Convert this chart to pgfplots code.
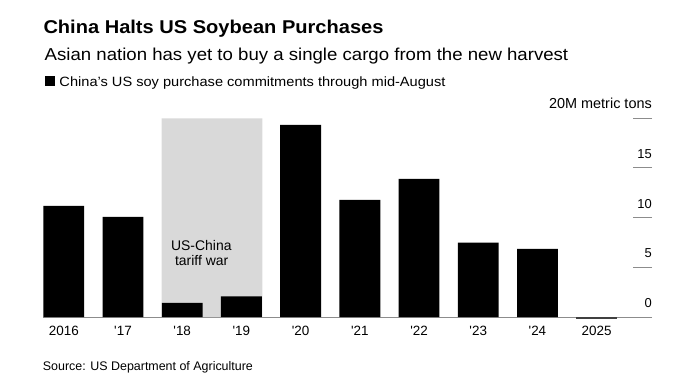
\documentclass[border=0pt]{standalone}
\usepackage{fontspec}
\setmainfont{Liberation Sans}
\usepackage{graphicx}
\usepackage{pgfplots}
\pgfplotsset{compat=1.18}
\definecolor{shade}{RGB}{217,217,217}
\definecolor{axgray}{RGB}{140,140,140}
\newcommand{\fitw}[2]{\resizebox{#1}{\height}{#2}}
\newcommand{\ap}{\textquotesingle}
\begin{document}
\begin{tikzpicture}[x=1bp,y=1bp]
\path[use as bounding box] (0,0) rectangle (697,382);
\begin{axis}[
 at={(43.3bp,65bp)}, anchor=south west,
 scale only axis, width=608.7bp, height=198.7bp,
 xmin=-0.346, xmax=9.935, ymin=0, ymax=20,
 /pgf/number format/assume math mode=true,
 axis x line*=bottom, axis y line*=right,
 x axis line style={draw=axgray,-, line width=0.8bp},
 y axis line style={draw=none},
 xtick={0,...,9},
 xticklabels={2016,\ap 17,\ap 18,\ap 19,\ap 20,\ap 21,\ap 22,\ap 23,\ap 24,2025},
 xtick style={draw=none},
 xticklabel style={anchor=base, yshift=-18.7bp, font=\fontsize{13.5}{15}\selectfont},
 ytick={0,5,10,15},
 yticklabels={0,5,10,15},
 extra y ticks={20}, extra y tick labels={\fontsize{14.5}{16}\selectfont 20M metric tons},
 extra y tick style={major tick style={draw=black}},
 tick align=inside, major tick length=19bp,
 ytick style={draw=axgray, line width=1bp},
 yticklabel style={anchor=base east, inner xsep=0pt, yshift=9.5bp, font=\fontsize{13}{15}\selectfont},
 clip=false,
]
\addplot[draw=none, fill=shade] coordinates {(1.654,0)(1.654,20)(3.353,20)(3.353,0)} \closedcycle;
\addplot[ybar, bar width=0.69, bar shift=0pt, fill=black, draw=none] coordinates {
(0,11.18)(1,10.07)(2,1.41)(3,2.08)(4,19.33)(5,11.8)(6,13.9)(7,7.48)(8,6.85)};
\addplot[draw=black!75, line width=1.8bp] coordinates {(8.655,-0.08)(9.345,-0.08)};
\node[anchor=base, inner sep=0pt, font=\fontsize{14}{16}\selectfont] at (axis cs:2.323,6.66) {US-China};
\node[anchor=base, inner sep=0pt, font=\fontsize{14}{16}\selectfont] at (axis cs:2.329,5.16) {tariff war};
\end{axis}
\node[anchor=base west, inner sep=0pt] at (43.3,348.7) {\fitw{340bp}{\fontsize{18.6}{20}\selectfont\bfseries China Halts US Soybean Purchases}};
\node[anchor=base west, inner sep=0pt] at (44.5,321.3) {\fitw{523.5bp}{\fontsize{17.3}{19}\selectfont Asian nation has yet to buy a single cargo from the new harvest}};
\fill[black] (45,295.7) rectangle (55,305.7);
\node[anchor=base west, inner sep=0pt] at (59.3,295.7) {\fitw{386bp}{\fontsize{13.5}{15}\selectfont China's US soy purchase commitments through mid-August}};
\node[anchor=base west, inner sep=0pt] at (42.7,11.3) {\fitw{210bp}{\fontsize{12.5}{14}\selectfont Source: US Department of Agriculture}};
\end{tikzpicture}
\end{document}
